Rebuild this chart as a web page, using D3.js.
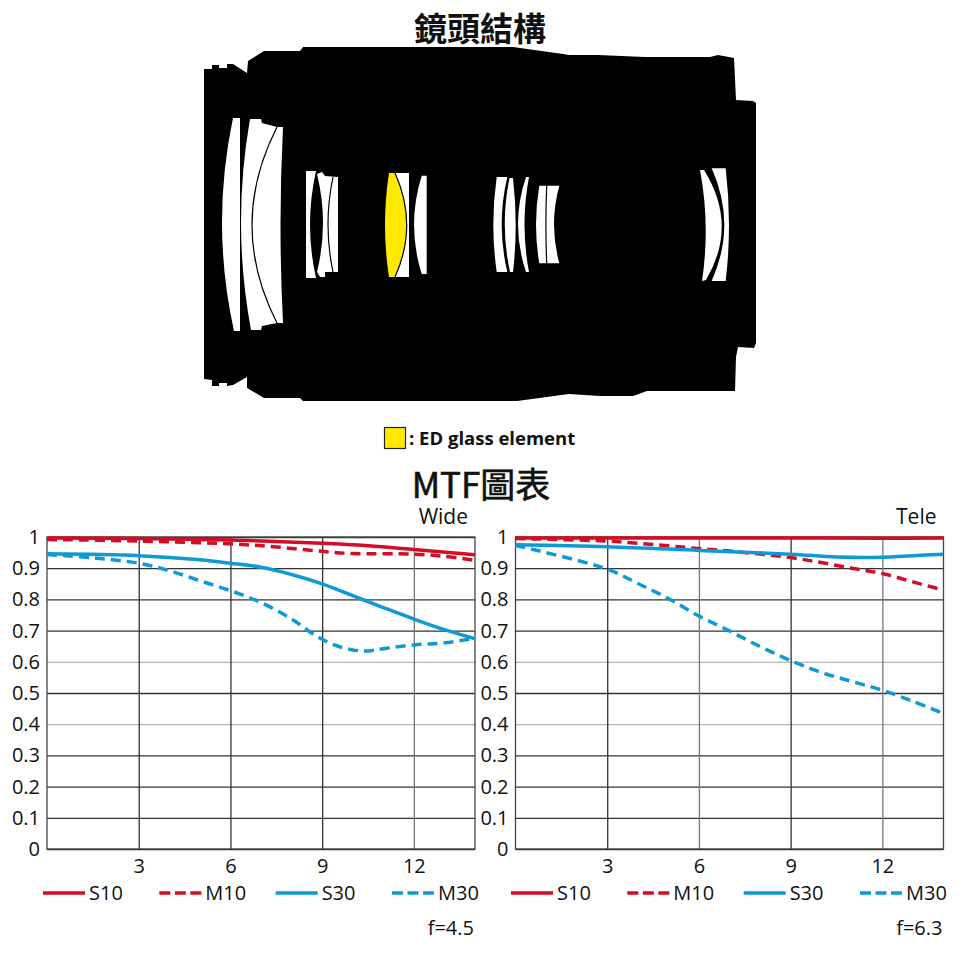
<!DOCTYPE html>
<html lang="en">
  <head>
    <meta charset="utf-8" />
    <title>鏡頭結構 / MTF圖表</title>
    <script src="https://d3js.org/d3.v7.min.js"></script>
    <style>
      html, body {
        margin: 0;
        background: #fff;
      }
      svg {
        display: block;
      }
      text {
        font-family: "Open Sans", sans-serif;
        fill: #111;
      }
      .cjk {
        font-family: "Noto Sans CJK TC", sans-serif;
      }
      .tick text {
        font-size: 20px;
      }
      .tick line {
        stroke-width: 1.3px;
      }
    </style>
  </head>
  <body>
    <div id="chart"></div>
    <script>
      // MTF readings, x = image height in mm
      const yTicks = [0, 0.1, 0.2, 0.3, 0.4, 0.5, 0.6, 0.7, 0.8, 0.9, 1];
      const xTicks = [3, 6, 9, 12];
      const faintY = [0.4, 0.6];
      const seriesNames = ["S10", "M10", "S30", "M30"];

      const wideS10 = [[0, 0.997], [3, 0.995], [6, 0.99], [9, 0.98], [10.5, 0.972], [12, 0.96], [14, 0.943]];
      const wideM10 = [[0, 0.992], [3, 0.987], [6, 0.978], [7.5, 0.968], [9, 0.954], [10, 0.947], [12, 0.945], [13, 0.938], [14, 0.925]];
      const wideS30 = [[0, 0.946], [3, 0.94], [5, 0.927], [6, 0.916], [7, 0.903], [8, 0.88], [9, 0.85], [10, 0.812], [11, 0.774], [12, 0.737], [13, 0.703], [14, 0.674]];
      const wideM30 = [[0, 0.944], [1.5, 0.933], [3, 0.916], [4, 0.892], [5, 0.86], [6, 0.828], [7, 0.79], [8, 0.737], [8.8, 0.683], [9.4, 0.654], [10, 0.638], [10.5, 0.635], [11, 0.642], [12, 0.654], [13, 0.661], [14, 0.675]];

      const teleS10 = [[0, 0.997], [3, 0.997], [6, 0.997], [9, 0.997], [12, 0.996], [14, 0.997]];
      const teleM10 = [[0, 0.995], [3, 0.987], [4, 0.98], [6, 0.963], [7, 0.955], [9, 0.934], [10, 0.918], [11, 0.9], [12, 0.883], [13, 0.856], [14, 0.83]];
      const teleS30 = [[0, 0.975], [3, 0.969], [6, 0.957], [9, 0.945], [10.5, 0.936], [12, 0.935], [13, 0.94], [14, 0.945]];
      const teleM30 = [[0, 0.973], [3, 0.897], [4, 0.851], [5, 0.803], [6, 0.747], [7, 0.699], [8, 0.649], [9, 0.604], [10, 0.566], [11, 0.537], [12, 0.509], [13, 0.473], [14, 0.434]];

      // lens drawing, units measured from the optical axis
      const barrelOutline = [
        [4, -155], [12, -155], [12, -159], [19, -159], [19, -156], [27, -156], [27, -160], [33, -160],
        [47, -151], [48, -163], [64, -173], [100, -173], [103, -177], [313, -177], [363, -170], [369, -169],
        [398, -169], [445, -167], [510, -167], [518, -169], [534, -166], [536, -124], [553, -123], [556, -121],
        [556, 119], [554, 124], [538, 123], [536, 133], [535, 167], [447, 167], [433, 172], [400, 172],
        [369, 170], [317, 177], [103, 177], [100, 174], [64, 174], [47, 164], [47, 153], [33, 161],
        [27, 162], [27, 159], [19, 159], [19, 162], [12, 162], [12, 156], [4, 155],
      ];
      // [x, y, bulge of the edge to the next point]
      const glassElements = [
        [[33, -106], [40, -106], [40, 107], [34, 107, -11.5]],
        [[50, -105], [61, -105], [62, -101], [77, -97], [83, -97, -2.5], [83, 99], [77, 99], [62, 102], [61, 106], [51, 106, -9.5]],
        [[106, -53], [116, -53, -6], [116, 54], [106, 54]],
        [[117, -50], [122, -52], [125, -48], [138, -47], [138, 48], [125, 48], [125, 53], [120, 53], [117, 48, 6]],
        [[195, -51], [209, -51], [209, 53], [195, 53]],
        [[221.7, -48.3], [226.7, -48.3], [226.7, 50], [221.7, 50, -7.7]],
        [[296.7, -47], [307.3, -47, -5.6], [307.3, 48], [296.7, 48, -3.4]],
        [[309.5, -46], [313, -46, 2.7], [313, 48], [310, 48, -5]],
        [[326, -47], [329, -47, -4.5], [329, 48], [326, 48, -8]],
        [[339.3, -38.3], [359.3, -38.3, -5.3], [359.3, 39.3], [339.3, 39.3, -3.3]],
        [[500, -54], [504, -54, 16.7], [506, 56], [502, 57, 4.7]],
        [[511.7, -55.7], [525.7, -55.7, 3.3], [525.7, 57], [511.7, 57, 12.6]],
      ];
      const edElement = [[189, -51], [195, -51, 11.7], [195, 53], [189, 53, -4]];
      const cementLines = [
        [[77, -97, -25], [77, 99]],
        [[133, -47, -5], [133, 48]],
        [[195, -51, 11.7], [195, 53]],
        [[346.7, -38.3, -0.8], [346.7, 39.3]],
      ];

      const width = 960;
      const height = 959;
      const red = "#d50c25";
      const blue = "#0f9ad6";

      const svg = d3
        .select("#chart")
        .append("svg")
        .attr("width", width)
        .attr("height", height);

      svg
        .append("text")
        .attr("class", "cjk")
        .attr("x", 480)
        .attr("y", 41)
        .attr("text-anchor", "middle")
        .attr("font-size", 33)
        .attr("font-weight", 700)
        .text("鏡頭結構");

      /** Lens cross-section */
      function drawLens() {
        const lensX = d3.scaleLinear().domain([0, 556]).range([200, 756]);
        const lensY = d3.scaleLinear().domain([-177, 177]).range([47, 401]);

        // straight edges, or a quadratic curve when the point has a bulge
        function shape(points, closed) {
          const p = d3.path();
          points.forEach((pt, i) => {
            if (i === 0) p.moveTo(lensX(pt[0]), lensY(pt[1]));
            const next = points[(i + 1) % points.length];
            if (i === points.length - 1 && !closed) return;
            if (pt[2]) {
              const cx = (pt[0] + next[0]) / 2 + 2 * pt[2];
              const cy = (pt[1] + next[1]) / 2;
              p.quadraticCurveTo(lensX(cx), lensY(cy), lensX(next[0]), lensY(next[1]));
            } else {
              p.lineTo(lensX(next[0]), lensY(next[1]));
            }
          });
          if (closed) p.closePath();
          return p.toString();
        }

        const lens = svg.append("g");
        lens.append("path").attr("d", shape(barrelOutline, true)).attr("fill", "#000");
        lens
          .selectAll(".glass")
          .data(glassElements)
          .enter()
          .append("path")
          .attr("class", "glass")
          .attr("d", (d) => shape(d, true))
          .attr("fill", "#fff");
        lens.append("path").attr("d", shape(edElement, true)).attr("fill", "#ffe900");
        lens
          .selectAll(".cement")
          .data(cementLines)
          .enter()
          .append("path")
          .attr("class", "cement")
          .attr("d", (d) => shape(d, false))
          .attr("fill", "none")
          .attr("stroke", "#000")
          .attr("stroke-width", 1.2);
      }
      drawLens();

      // key for the ED element
      svg
        .append("rect")
        .attr("x", 384.5)
        .attr("y", 427.5)
        .attr("width", 21)
        .attr("height", 21)
        .attr("fill", "#ffe900")
        .attr("stroke", "#222")
        .attr("stroke-width", 1.2);
      svg
        .append("text")
        .attr("x", 409)
        .attr("y", 445)
        .attr("font-size", 18.5)
        .attr("font-weight", 700)
        .text(": ED glass element");

      svg
        .append("text")
        .attr("class", "cjk")
        .attr("x", 481)
        .attr("y", 498)
        .attr("text-anchor", "middle")
        .attr("font-size", 35)
        .attr("stroke", "#111")
        .attr("stroke-width", 0.6)
        .text("MTF圖表");

      /** One MTF panel with its legend */
      function drawPanel(cfg) {
        const x = d3.scaleLinear().domain([0, 14]).range([cfg.left, cfg.right]);
        const y = d3.scaleLinear().domain([0, 1]).range([849, 537]);
        const g = svg.append("g");

        const yAxis = d3
          .axisLeft(y)
          .tickValues(yTicks)
          .tickSize(-(cfg.right - cfg.left))
          .tickPadding(7)
          .tickFormat((d) => d);
        const yG = g
          .append("g")
          .attr("transform", `translate(${cfg.left},0)`)
          .call(yAxis);
        yG.select(".domain").remove();
        yG.selectAll(".tick line").attr("stroke", (d) =>
          faintY.includes(d) ? "#b5b5b5" : "#333"
        );

        const xAxis = d3
          .axisBottom(x)
          .tickValues(xTicks)
          .tickSize(-312)
          .tickPadding(10)
          .tickFormat((d) => d);
        const xG = g.append("g").attr("transform", "translate(0,849)").call(xAxis);
        xG.select(".domain").remove();
        xG.selectAll(".tick line").attr("stroke", (d) =>
          cfg.faintX.includes(d) ? "#777" : "#333"
        );

        g.append("rect")
          .attr("x", cfg.left)
          .attr("y", 537)
          .attr("width", cfg.right - cfg.left)
          .attr("height", 312)
          .attr("fill", "none")
          .attr("stroke", "#444")
          .attr("stroke-width", 1.3);

        const line = d3
          .line()
          .x((d) => x(d[0]))
          .y((d) => y(d[1]))
          .curve(d3.curveCatmullRom.alpha(0.5));

        cfg.series.forEach((values, i) => {
          g.append("path")
            .attr("d", line(values))
            .attr("fill", "none")
            .attr("stroke", i < 2 ? red : blue)
            .attr("stroke-width", 3.5)
            .attr("stroke-dasharray", i % 2 ? "10 6" : null);
        });

        g.append("text")
          .attr("x", cfg.right - 7)
          .attr("y", 524)
          .attr("text-anchor", "end")
          .attr("font-size", 21)
          .text(cfg.title);
        g.append("text")
          .attr("x", cfg.right - 1)
          .attr("y", 935)
          .attr("text-anchor", "end")
          .attr("font-size", 20)
          .text(cfg.note);

        const legendX = d3.scaleLinear().domain([0, 3]).range(cfg.legend);
        seriesNames.forEach((name, i) => {
          g.append("line")
            .attr("x1", legendX(i))
            .attr("x2", legendX(i) + 42)
            .attr("y1", 893)
            .attr("y2", 893)
            .attr("stroke", i < 2 ? red : blue)
            .attr("stroke-width", 3.5)
            .attr("stroke-dasharray", i % 2 ? "11 4.5" : null);
          g.append("text")
            .attr("x", legendX(i) + 46)
            .attr("y", 900)
            .attr("font-size", 20)
            .text(name);
        });
      }

      drawPanel({
        left: 47,
        right: 475,
        title: "Wide",
        note: "f=4.5",
        legend: [43, 392],
        faintX: [12],
        series: [wideS10, wideM10, wideS30, wideM30],
      });
      drawPanel({
        left: 515.5,
        right: 943.5,
        title: "Tele",
        note: "f=6.3",
        legend: [511, 860],
        faintX: [6, 12],
        series: [teleS10, teleM10, teleS30, teleM30],
      });
    </script>
  </body>
</html>
